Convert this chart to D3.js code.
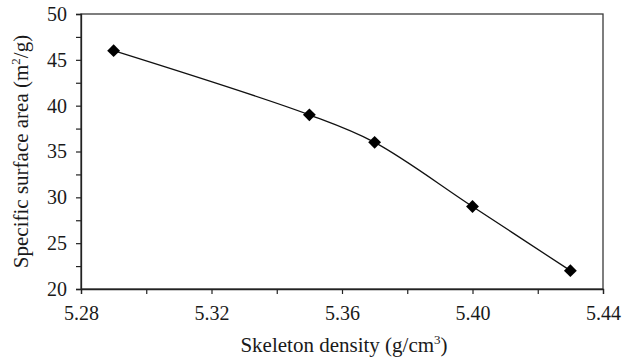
<!DOCTYPE html>
<html><head><meta charset="utf-8">
<script src="https://cdn.jsdelivr.net/npm/d3@7"></script>
<style>
body{margin:0;background:#fff;}
text{font-family:"Liberation Serif","DejaVu Serif",serif;fill:#1a1a1a;}
</style></head>
<body><svg id="c" width="632" height="359"></svg>
<script>
const density = [5.29, 5.35, 5.37, 5.40, 5.43];
const surfaceArea = [46, 39, 36, 29, 22];
const xTickLabels = ["5.28", "5.32", "5.36", "5.40", "5.44"];
const yTickLabels = ["20", "25", "30", "35", "40", "45", "50"];

const svg = d3.select("#c");
const m = {l:81, r:29, t:14, b:70};
const W = 632, H = 359;
const x = d3.scaleLinear().domain([5.28, 5.44]).range([m.l, W - m.r]);
const y = d3.scaleLinear().domain([20, 50]).range([H - m.b, m.t]);

// frame
svg.append("rect").attr("x", m.l).attr("y", m.t)
  .attr("width", W - m.r - m.l).attr("height", H - m.b - m.t)
  .attr("fill", "none").attr("stroke", "#3a3a3a").attr("stroke-width", 1.3);

// minor ticks
const xMinor = d3.range(5.28, 5.4401, 0.02);
const yMinor = d3.range(20, 50.01, 2.5);
const xAx = d3.axisBottom(x).tickValues(xMinor).tickSize(5).tickFormat("");
const yAx = d3.axisLeft(y).tickValues(yMinor).tickSize(5).tickFormat("");
const gx = svg.append("g").attr("transform", `translate(0,${H - m.b})`).call(xAx);
const gy = svg.append("g").attr("transform", `translate(${m.l},0)`).call(yAx);
[gx, gy].forEach(g => {
  g.select(".domain").attr("stroke", "#222").attr("stroke-width", 1.3);
  g.selectAll(".tick line").attr("stroke", "#222").attr("stroke-width", 1.2);
});

// tick labels
const gxl = svg.append("g").attr("transform", `translate(0,${H - m.b})`)
  .call(d3.axisBottom(x).tickValues(xTickLabels.map(Number)).tickSize(0)
    .tickPadding(17).tickFormat((d,i) => xTickLabels[i]));
gxl.select(".domain").remove();
gxl.selectAll("text").style("font-size", "20px").attr("fill", "#1a1a1a");
const gyl = svg.append("g").attr("transform", `translate(${m.l},0)`)
  .call(d3.axisLeft(y).tickValues(yTickLabels.map(Number)).tickSize(0)
    .tickPadding(14).tickFormat((d,i) => yTickLabels[i]));
gyl.select(".domain").remove();
gyl.selectAll("text").style("font-size", "20px").attr("fill", "#1a1a1a");

// line
const pts = density.map((d, i) => [d, surfaceArea[i]]);
svg.append("path").datum(pts)
  .attr("d", d3.line().x(d => x(d[0])).y(d => y(d[1])).curve(d3.curveCatmullRom.alpha(0.5)))
  .attr("fill", "none").attr("stroke", "#111").attr("stroke-width", 1.3);

// markers
svg.selectAll("path.mk").data(pts).enter().append("path").attr("class", "mk")
  .attr("d", d3.symbol().type(d3.symbolDiamond2).size(105))
  .attr("transform", d => `translate(${x(d[0])},${y(d[1])})`)
  .attr("fill", "#000");

// axis titles
svg.append("text").attr("x", 344).attr("y", 352)
  .attr("text-anchor", "middle").style("font-size", "21px")
  .html('Skeleton density (g/cm<tspan dy="-8" font-size="13px">3</tspan><tspan dy="8">)</tspan>');
svg.append("text").attr("transform", `translate(28,${(m.t + H - m.b) / 2}) rotate(-90)`)
  .attr("text-anchor", "middle").style("font-size", "21px")
  .html('Specific surface area (m<tspan dy="-8" font-size="13px">2</tspan><tspan dy="8">/g)</tspan>');
</script></body></html>
